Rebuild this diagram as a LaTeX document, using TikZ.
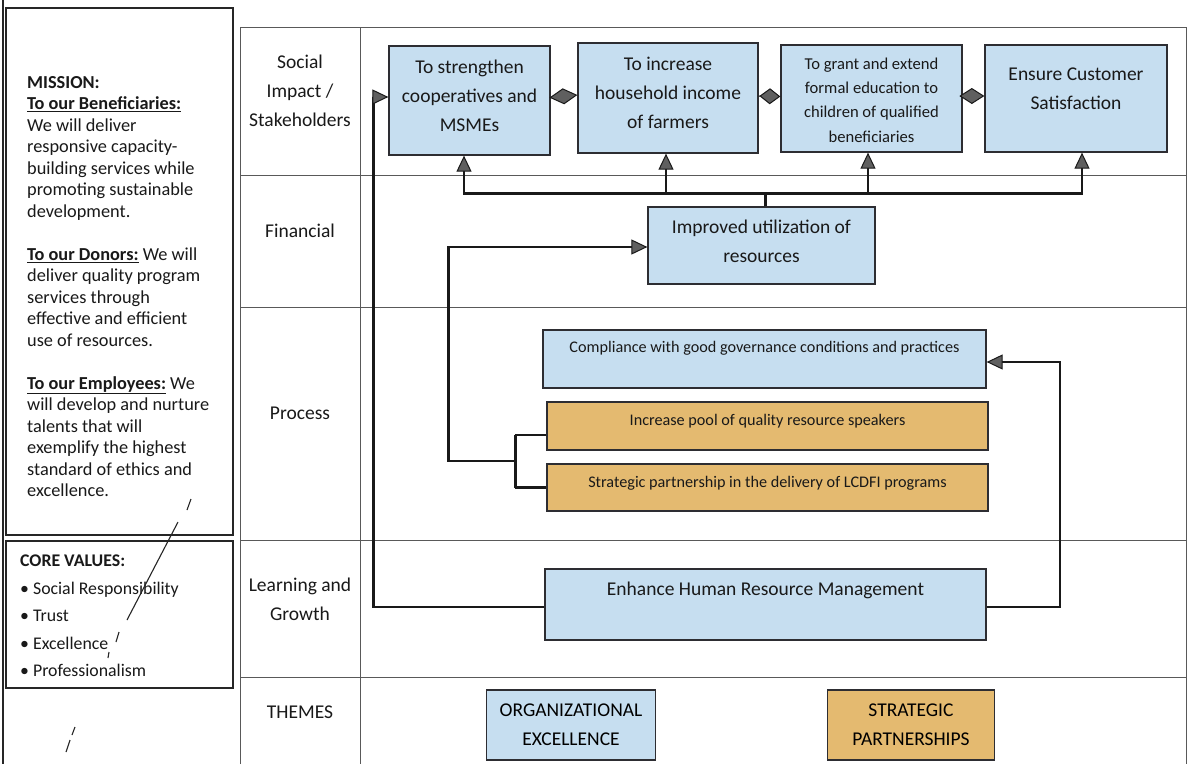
\documentclass[tikz,border=0pt]{standalone}
\usepackage{fontspec}
\setmainfont{Carlito}
\usetikzlibrary{arrows.meta,calc}
\definecolor{lblue}{RGB}{198,222,240}
\definecolor{lorange}{RGB}{228,186,112}
\definecolor{tipgray}{RGB}{95,95,95}
\definecolor{edge}{RGB}{45,45,50}
\tikzset{
  box/.style={draw=edge, line width=1.3pt, fill=lblue, inner sep=0pt, align=center},
  obox/.style={box, fill=lorange},
  txt/.style={inner sep=0pt, align=center, text=black!90},
  big/.style={font=\fontsize{19.5}{29}\selectfont},
  conn/.style={line width=2.4pt, draw=black!90},
  arr/.style={conn, -{Triangle[length=16pt,width=15pt,fill=tipgray,line width=1pt]}},
  dia/.style={line width=1pt, draw=black!90,
    -{Diamond[length=#1,width=16pt,fill=tipgray,line width=1pt]}},
  tbl/.style={line width=0.9pt, draw=black!65},
  frame/.style={line width=1.3pt, draw=black!85},
  penmark/.style={line width=1.1pt, draw=black!85}
}
\begin{document}
\begin{tikzpicture}[x=1pt,y=-1pt]
\useasboundingbox (0,0) rectangle (1197,764);
\fill[white] (0,0) rectangle (1197,764);

% ---------- left panel ----------
\draw[frame, line width=2pt] (3,0) -- (3,764);
\draw[frame] (6,8) rectangle (233,535);
\draw[frame] (6,541) rectangle (233,688);

\node[anchor=north west, inner sep=0pt, align=left, font=\fontsize{18.3}{21.5}\selectfont, text=black!90] (mission) at (27,76)
{\textbf{MISSION:}\\
\textbf{\underline{To our Beneficiaries:}}\\
We will deliver\\
responsive capacity-\\
building services while\\
promoting sustainable\\
development.\\[21.5pt]
\textbf{\underline{To our Donors:}} We will\\
deliver quality program\\
services through\\
effective and efficient\\
use of resources.\\[21.5pt]
\textbf{\underline{To our Employees:}} We\\
will develop and nurture\\
talents that will\\
exemplify the highest\\
standard of ethics and\\
excellence.};

\node[anchor=north west, inner sep=0pt, align=left, font=\fontsize{17.8}{27.5}\selectfont, text=black!90] (core) at (20,555)
{\textbf{CORE VALUES:}\\
\textbullet\ Social Responsibility\\
\textbullet\ Trust\\
\textbullet\ Excellence\\
\textbullet\ Professionalism};

% stray pen marks
\draw[penmark] (191,499) -- (187,510);
\draw[penmark] (178,522) -- (127,620);
\draw[penmark] (119,632) -- (116,642);
\draw[penmark] (109,652) -- (108,658);
\draw[penmark] (75,727) -- (72,735);
\draw[penmark] (70,740) -- (66,752);

% ---------- table ----------
\draw[tbl] (240,764) -- (240,27) -- (1186,27) -- (1186,764);
\draw[tbl] (360,27) -- (360,764);
\foreach \yy in {175,307,540,677} \draw[tbl] (240,\yy) -- (1186,\yy);

\node[txt, big] (rl1) at (300,91) {Social\\Impact /\\Stakeholders};
\node[txt, big] (rl2) at (300,231) {Financial};
\node[txt, big] (rl3) at (300,413) {Process};
\node[txt, big] (rl4) at (300,599) {Learning and\\Growth};
\node[txt, big] (rl5) at (300,712) {THEMES};

% ---------- boxes ----------
\node[box, minimum width=161pt, minimum height=109pt] (B1) at (469.5,100.5) {};
\node[txt, big] (B1t) at (469.5,96) {To strengthen\\cooperatives and\\MSMEs};
\node[box, minimum width=180pt, minimum height=110pt] (B2) at (668,98) {};
\node[txt, big] (B2t) at (668,93) {To increase\\household income\\of farmers};
\node[box, minimum width=181pt, minimum height=107pt] (B3) at (871.5,98.5) {};
\node[txt, font=\fontsize{16.6}{24.3}\selectfont] (B3t) at (871.5,100) {To grant and extend\\formal education to\\children of qualified\\beneficiaries};
\node[box, minimum width=182pt, minimum height=107pt] (B4) at (1076,98.5) {};
\node[txt, big] (B4t) at (1076,89) {Ensure Customer\\Satisfaction};

\node[box, minimum width=227pt, minimum height=77pt] (F) at (761.5,245.5) {};
\node[txt, big] (Ft) at (761.5,241.5) {Improved utilization of\\resources};

\node[box, minimum width=443pt, minimum height=58pt] (C) at (764.5,359) {};
\node[txt, font=\fontsize{16.2}{20}\selectfont] (Ct) at (764.5,348) {Compliance with good governance conditions and practices};
\node[obox, minimum width=441pt, minimum height=48pt] (O1) at (767.5,426) {};
\node[txt, font=\fontsize{16.2}{20}\selectfont] (O1t) at (767.5,421) {Increase pool of quality resource speakers};
\node[obox, minimum width=441pt, minimum height=47pt] (O2) at (767.5,487.5) {};
\node[txt, font=\fontsize{16.2}{20}\selectfont] (O2t) at (767.5,483) {Strategic partnership in the delivery of LCDFI programs};

\node[box, minimum width=441pt, minimum height=71pt] (HR) at (765.5,604.5) {};
\node[txt, big] (HRt) at (765.5,590) {Enhance Human Resource Management};

\node[box, minimum width=169pt, minimum height=70pt, big] (OE) at (571,725) {ORGANIZATIONAL\\EXCELLENCE};
\node[obox, minimum width=167pt, minimum height=70pt, big] (SP) at (911,725) {STRATEGIC\\PARTNERSHIPS};

% ---------- connectors ----------
\draw[dia=28pt] ([yshift=3pt]B1.east) -- ([yshift=3pt]B2.west);
\draw[dia=21pt] ([yshift=2pt]B2.east) -- ([yshift=2pt]B3.west);
\draw[dia=25pt] ([yshift=2.5pt]B3.east) -- ([yshift=2.5pt]B4.west);

\draw[arr] ([xshift=4pt]F.north) -- ++(0,-13) -| ([xshift=-5.5pt]B1.south);
\draw[arr] ([xshift=4pt]F.north) -- ++(0,-13) -| ([xshift=-2pt]B2.south);
\draw[arr] ([xshift=4pt]F.north) -- ++(0,-13) -| ([xshift=-3.5pt]B3.south);
\draw[arr] ([xshift=4pt]F.north) -- ++(0,-13) -| ([xshift=6pt]B4.south);

\draw[conn] ([yshift=-9pt]O1.west) -- ++(-31,0) coordinate (bt);
\draw[conn] (O2.west) -- ++(-31,0) coordinate (bb);
\draw[conn] (bt) -- (bb);
\coordinate (brk) at ($(bt)!0.5!(bb)$);
\draw[arr] (brk) -- ++(-67,0) |- ([yshift=-1.5pt]F.west);

\draw[arr] ([yshift=-2.5pt]HR.west) -- ++(-171,0) |- ([yshift=3.5pt]B1.west);
\draw[arr] ([yshift=-2.5pt]HR.east) -- ++(73.5,0) |- ([yshift=-3pt]C.east);
\end{tikzpicture}
\end{document}
